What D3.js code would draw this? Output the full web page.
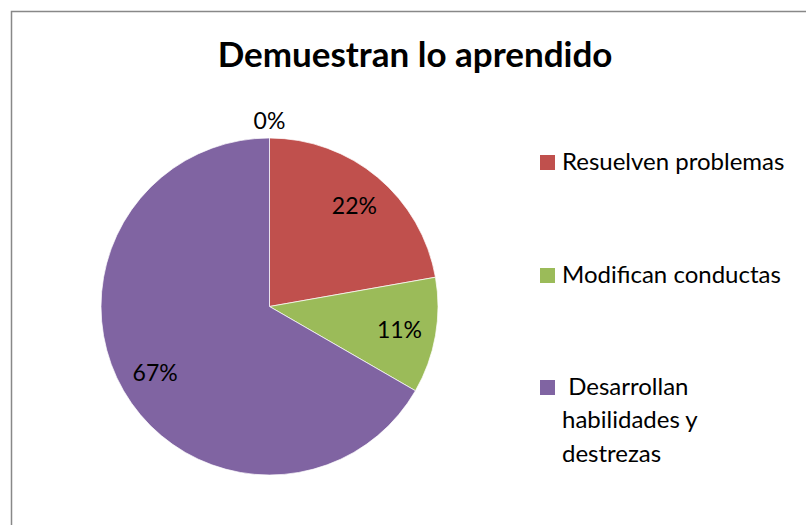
<!DOCTYPE html>
<html>
<head>
<meta charset="utf-8">
<script src="https://cdn.jsdelivr.net/npm/d3@7"></script>
<style>
  body { margin: 0; background: #fff; }
  svg { display: block; }
</style>
</head>
<body>
<svg id="chart" width="806" height="525"></svg>
<script>
// data (counts: 0, 2, 1, 6 of 9)
var categories = ["", "Resuelven problemas", "Modifican conductas", "Desarrollan habilidades y destrezas"];
var values = [0, 2, 1, 6];
var colors = ["#4F81BD", "#C0504D", "#9BBB59", "#8064A2"];
var legendLines = [[], ["Resuelven problemas"], ["Modifican conductas"], ["\u00a0Desarrollan", "habilidades y", "destrezas"]];

var svg = d3.select("#chart");
var font = "Lato, 'Open Sans', sans-serif";

// chart frame (runs off the right and bottom edges)
svg.append("rect")
  .attr("x", 11.5).attr("y", 11.5)
  .attr("width", 820).attr("height", 540)
  .attr("fill", "#fff")
  .attr("stroke", "#888").attr("stroke-width", 1.5);

svg.append("text")
  .attr("x", 415).attr("y", 67)
  .attr("text-anchor", "middle")
  .attr("font-family", font).attr("font-weight", "bold")
  .attr("font-size", 35)
  .text("Demuestran lo aprendido");

var cx = 269.5, cy = 306.5, R = 168.5;
var total = d3.sum(values);

var pie = d3.pie().sort(null).value(function(d) { return d; });
var arcs = pie(values);
var arc = d3.arc().innerRadius(0).outerRadius(R);
var labelArc = d3.arc().innerRadius(132).outerRadius(132);

var g = svg.append("g").attr("transform", "translate(" + cx + "," + cy + ")");

g.selectAll("path")
  .data(arcs)
  .enter()
  .append("path")
  .attr("d", arc)
  .attr("fill", function(d, i) { return colors[i]; })
  .attr("stroke", "#fff")
  .attr("stroke-width", 0.7);

g.selectAll("text.pct")
  .data(arcs)
  .enter()
  .append("text")
  .attr("class", "pct")
  .attr("transform", function(d) {
    if (d.value === 0) return "translate(0," + (-R - 18) + ")";
    return "translate(" + labelArc.centroid(d) + ")";
  })
  .attr("text-anchor", "middle")
  .attr("dy", "0.38em")
  .attr("font-family", font)
  .attr("font-size", 23)
  .attr("fill", "#000")
  .text(function(d) { return d3.format(".0%")(d.value / total); });

// legend
var legendY = [0, 162.5, 275.5, 387.5];
var legend = svg.selectAll("g.legend")
  .data(d3.range(values.length).filter(function(i) { return categories[i] !== ""; }))
  .enter()
  .append("g")
  .attr("class", "legend")
  .attr("transform", function(i) { return "translate(540," + legendY[i] + ")"; });

legend.append("rect")
  .attr("x", 0).attr("y", -7.5)
  .attr("width", 15).attr("height", 15)
  .attr("fill", function(i) { return colors[i]; });

legend.each(function(i) {
  var t = d3.select(this).append("text")
    .attr("font-family", font)
    .attr("font-size", 24)
    .attr("fill", "#000");
  legendLines[i].forEach(function(line, k) {
    t.append("tspan")
      .attr("x", 22)
      .attr("y", 7 + k * 33.5)
      .text(line);
  });
});
</script>
</body>
</html>
